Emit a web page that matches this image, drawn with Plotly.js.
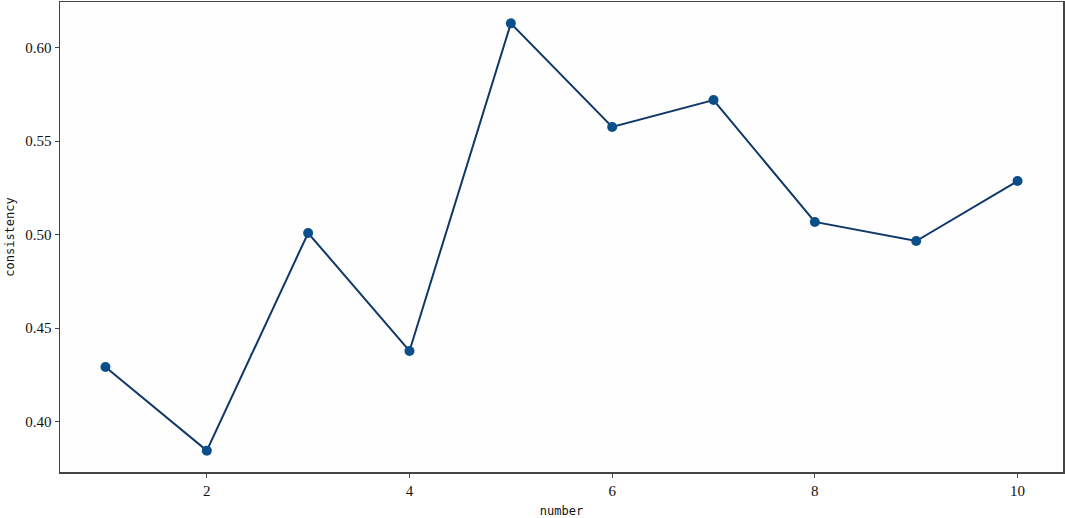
<!DOCTYPE html>
<html>
<head>
<meta charset="utf-8">
<script src="https://cdn.plot.ly/plotly-3.0.1.min.js"></script>
<style>html,body{margin:0;padding:0;background:#fff;}#chart{width:1065px;height:518px;}</style>
</head>
<body>
<div id="chart"></div>
<script>
const numbers = [1, 2, 3, 4, 5, 6, 7, 8, 9, 10];
const consistency = [0.4292, 0.3845, 0.5009, 0.4378, 0.6130, 0.5576, 0.5720, 0.5068, 0.4966, 0.5287];
const xTicks = [2, 4, 6, 8, 10];
const yTicks = [0.40, 0.45, 0.50, 0.55, 0.60];

const trace = {
  x: numbers, y: consistency, type: 'scatter', mode: 'lines+markers',
  line: {color: '#0f3868', width: 2},
  marker: {color: '#0b4f8a', size: 10}
};
const layout = {
  width: 1065, height: 518,
  margin: {l: 60, r: 2, t: 2, b: 46},
  paper_bgcolor: '#ffffff', plot_bgcolor: '#fefefe',
  showlegend: false,
  xaxis: {
    range: [0.5515, 10.4485], tickvals: xTicks, ticktext: xTicks.map(String),
    showgrid: false, zeroline: false, showline: true, mirror: true,
    linecolor: '#444', linewidth: 1.5, ticks: 'outside', ticklen: 4, tickcolor: '#444',
    tickfont: {family: 'Liberation Serif, Times New Roman, serif', size: 15, color: '#111'},
    title: {text: 'number', font: {family: 'DejaVu Sans Mono, monospace', size: 12, color: '#111'}, standoff: 10}
  },
  yaxis: {
    range: [0.37307, 0.62443], tickvals: yTicks, ticktext: yTicks.map(v => v.toFixed(2)),
    showgrid: false, zeroline: false, showline: true, mirror: true,
    linecolor: '#444', linewidth: 1.5, ticks: 'outside', ticklen: 4, tickcolor: '#444',
    tickfont: {family: 'Liberation Serif, Times New Roman, serif', size: 15, color: '#111'},
    title: {text: 'consistency', font: {family: 'DejaVu Sans Mono, monospace', size: 12, color: '#111'}, standoff: 8}
  }
};
Plotly.newPlot('chart', [trace], layout, {displayModeBar: false, staticPlot: true});
</script>
</body>
</html>
